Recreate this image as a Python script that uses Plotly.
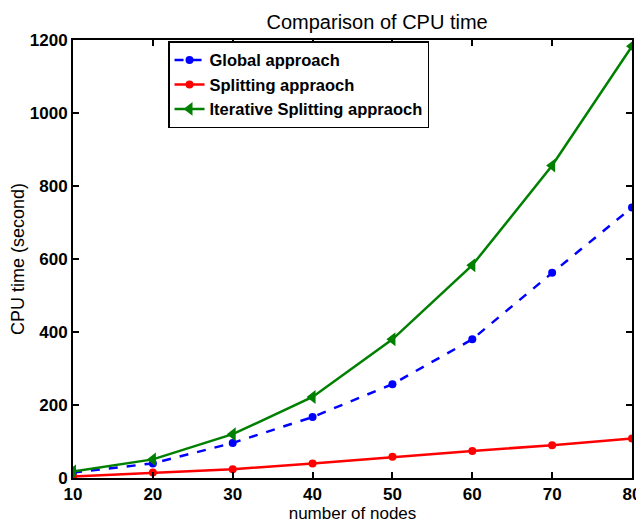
import plotly.graph_objects as go

nodes = [10, 20, 30, 40, 50, 60, 70, 80]
global_approach = [15, 40, 96, 167, 257, 380, 562, 741]
splitting = [4, 15, 24, 40, 58, 74, 90, 108]
iterative_splitting = [18, 51, 120, 222, 380, 583, 856, 1183]

x_ticks = [10, 20, 30, 40, 50, 60, 70, 80]
y_ticks = [0, 200, 400, 600, 800, 1000, 1200]

FONT = "Liberation Sans, Arial, Helvetica, sans-serif"

# page body has an 8px default margin; size the figure so it fits the window
W, H, OFF = 636, 516, 8

fig = go.Figure()
fig.add_trace(go.Scatter(
    x=nodes, y=global_approach, name="Global approach",
    mode="lines+markers",
    line=dict(color="#0000ff", width=2.5, dash="dash"),
    marker=dict(symbol="circle", size=8, color="#0000ff"),
))
fig.add_trace(go.Scatter(
    x=nodes, y=splitting, name="Splitting appraoch",
    mode="lines+markers",
    line=dict(color="#ff0000", width=2.5),
    marker=dict(symbol="circle", size=8, color="#ff0000"),
))
fig.add_trace(go.Scatter(
    x=nodes, y=iterative_splitting, name="Iterative Splitting appraoch",
    mode="lines+markers",
    line=dict(color="#008000", width=2.5),
    marker=dict(symbol="triangle-left", size=12, color="#008000"),
))

axis_common = dict(
    showgrid=False, zeroline=False, automargin=False,
    showline=True, linecolor="black", linewidth=2, mirror="ticks",
    ticks="inside", ticklen=6, tickwidth=1.5, tickcolor="black",
    tickfont=dict(family=FONT, size=17, color="black", weight="bold"),
)

fig.update_layout(
    width=W, height=H,
    margin=dict(l=73 - OFF, r=12, t=40 - OFF, b=46),
    paper_bgcolor="white", plot_bgcolor="white",
    title=dict(text="Comparison of CPU time", x=(354 - OFF) / W, xanchor="center",
               xref="paper", y=1 - (22 - OFF) / H, yanchor="middle", automargin=False,
               font=dict(family=FONT, size=20, color="black")),
    xaxis=dict(range=[10, 80], tickvals=x_ticks,
               title=dict(text="number of nodes", standoff=2,
                          font=dict(family=FONT, size=17, color="black")),
               **axis_common),
    yaxis=dict(range=[0, 1200], tickvals=y_ticks,
               title=dict(text="CPU time (second)", standoff=11,
                          font=dict(family=FONT, size=18, color="black")),
               **axis_common),
    legend=dict(x=0.17, y=0.997, xanchor="left", yanchor="top",
                bgcolor="white", bordercolor="black", borderwidth=1.5,
                font=dict(family=FONT, size=16.5, color="black", weight="bold"),
                tracegroupgap=0, itemwidth=30),
    showlegend=True,
)

fig.write_html("out.html")
